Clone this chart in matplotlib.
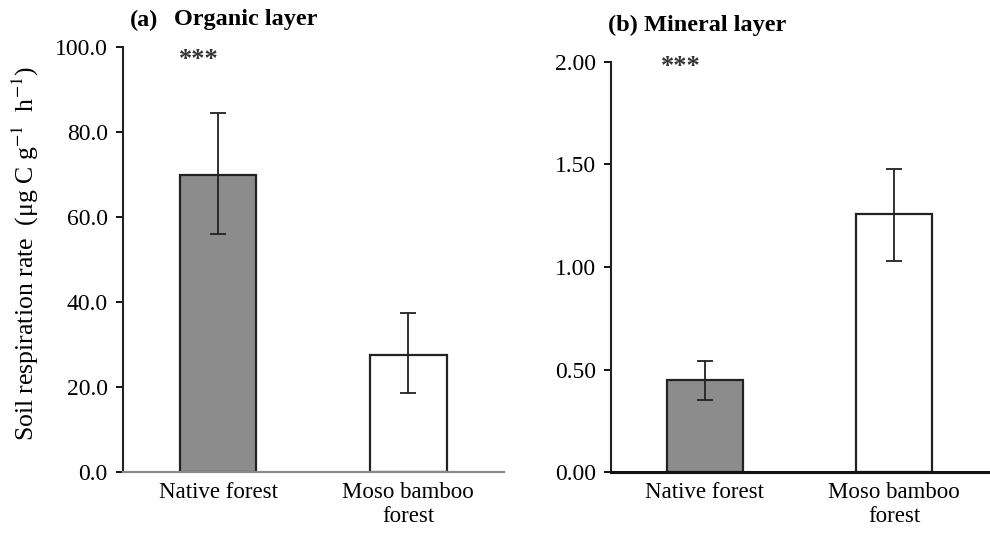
import matplotlib
matplotlib.use("Agg")
import matplotlib.pyplot as plt

plt.rcParams['font.family'] = ['Liberation Serif', 'DejaVu Serif']
plt.rcParams['mathtext.fontset'] = 'stix'

# data
categories = ['Native forest', 'Moso bamboo\nforest']
organic_mean = [70.0, 27.5]
organic_low = [56.0, 18.5]
organic_high = [84.5, 37.3]
mineral_mean = [0.45, 1.26]
mineral_low = [0.35, 1.03]
mineral_high = [0.54, 1.48]
organic_ticks = [0, 20, 40, 60, 80, 100]
mineral_ticks = [0.0, 0.5, 1.0, 1.5, 2.0]
bar_colors = ['#8c8c8c', 'white']

W, H = 990, 536
fig = plt.figure(figsize=(9.9, 5.36), dpi=100)


def px_axes(x0, x1, ytop, ybot):
    return fig.add_axes([x0 / W, 1 - ybot / H, (x1 - x0) / W, (ybot - ytop) / H])


def draw_panel(ax, means, low, high, ticks, fmt, xlim, width, bottom_color, bottom_lw):
    pos = list(range(len(means)))
    yerr = [[m - l for m, l in zip(means, low)], [h - m for m, h in zip(means, high)]]
    ax.bar(pos, means, width=width, color=bar_colors, edgecolor='#222222',
           linewidth=1.6, zorder=2)
    ax.errorbar(pos, means, yerr=yerr, fmt='none', ecolor='#222222',
                elinewidth=1.3, capsize=6, capthick=1.3, zorder=3)
    ax.set_xlim(*xlim)
    ax.set_ylim(ticks[0], ticks[-1])
    ax.set_yticks(ticks)
    ax.set_yticklabels([fmt % t for t in ticks], fontsize=17)
    ax.set_xticks(pos)
    ax.set_xticklabels(categories, fontsize=16.5)
    ax.tick_params(axis='x', length=0, pad=7)
    ax.tick_params(axis='y', direction='out', length=5, width=1.3, pad=6)
    for s in ['top', 'right']:
        ax.spines[s].set_visible(False)
    ax.spines['left'].set_linewidth(1.5)
    ax.spines['left'].set_color('#222222')
    ax.spines['bottom'].set_linewidth(bottom_lw)
    ax.spines['bottom'].set_color(bottom_color)
    ax.patch.set_alpha(0)


ax1 = px_axes(123, 504, 47, 472)
draw_panel(ax1, organic_mean, organic_low, organic_high, organic_ticks, '%.1f',
           (-0.5, 1.505), 0.405, '#8a8a8a', 1.6)
ax1.text(-0.1, 97.0, '***', ha='center', va='center', fontsize=19, fontweight='bold',
         color='#333333')

ax2 = px_axes(611, 990, 62, 472)
draw_panel(ax2, mineral_mean, mineral_low, mineral_high, mineral_ticks, '%.2f',
           (-0.497, 1.508), 0.40, '#111111', 2.2)
ax2.text(-0.13, 1.98, '***', ha='center', va='center', fontsize=19, fontweight='bold',
         color='#333333')

# panel titles
fig.text(130 / W, 1 - 20 / H, '(a)', fontsize=17.5, fontweight='bold', va='center')
fig.text(174 / W, 1 - 20 / H, 'Organic layer', fontsize=17.5, fontweight='bold', va='center')
fig.text(608 / W, 1 - 25 / H, '(b) Mineral layer', fontsize=17.5, fontweight='bold', va='center')

fig.text(25 / W, 1 - 253 / H, 'Soil respiration rate  (μg C g$^{-1}$  h$^{-1}$)',
         rotation=90, ha='center', va='center', fontsize=18.5)

plt.savefig('out.png', dpi=100)
plt.close()
